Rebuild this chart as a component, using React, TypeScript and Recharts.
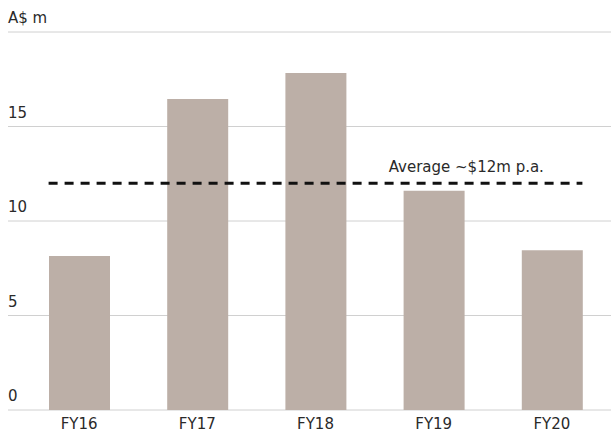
import { BarChart, Bar, XAxis, YAxis, CartesianGrid, ReferenceLine } from 'recharts'

const years = ['FY16', 'FY17', 'FY18', 'FY19', 'FY20']
const revenue = [8.15, 16.45, 17.83, 11.6, 8.45]
const average = 12
const yTicks = [0, 5, 10, 15, 20]
const unitLabel = 'A$ m'
const averageLabel = 'Average ~$12m p.a.'

const data = years.map((year, i) => ({ year, value: revenue[i] }))

const FONT = '"DejaVu Sans", sans-serif'
const FONT_SIZE = 15
const TEXT = '#2a2a2a'
const BAR_SIZE = 61

function YTick(props: any) {
  const { y, payload } = props
  const label = payload.value === 20 ? unitLabel : String(payload.value)
  return (
    <text x={8} y={y - 9} textAnchor="start" fill={TEXT} fontSize={FONT_SIZE} fontFamily={FONT}>
      {label}
    </text>
  )
}

function AvgLine(props: any) {
  const { x1, x2, y1 } = props
  return (
    <line
      x1={x1 - BAR_SIZE / 2}
      x2={x2 + BAR_SIZE / 2}
      y1={y1}
      y2={y1}
      stroke="#111"
      strokeWidth={3}
      strokeDasharray="9 7"
    />
  )
}

function AvgLabel(props: any) {
  const { viewBox } = props
  return (
    <text
      x={viewBox.x + viewBox.width - 8}
      y={viewBox.y - 11}
      textAnchor="end"
      fill={TEXT}
      fontSize={FONT_SIZE}
      fontFamily={FONT}
    >
      {averageLabel}
    </text>
  )
}

export default function App() {
  return (
    <div style={{ position: 'absolute', left: 0, top: 0 }}>
      <BarChart
        width={611}
        height={434}
        data={data}
        margin={{ top: 32, right: 0, left: 7, bottom: 0 }}
      >
        <CartesianGrid vertical={false} stroke="#d0d0d0" strokeWidth={1} />
        <XAxis
          dataKey="year"
          axisLine={false}
          tickLine={false}
          height={24}
          tickMargin={0}
          padding={{ left: 12, right: 0 }}
          tick={{ fill: TEXT, fontSize: FONT_SIZE, fontFamily: FONT, dy: 2 }}
          interval={0}
        />
        <YAxis
          width={1}
          domain={[0, 20]}
          ticks={yTicks}
          axisLine={false}
          tickLine={false}
          tick={<YTick />}
        />
        <Bar dataKey="value" fill="#bcafa7" barSize={BAR_SIZE} isAnimationActive={false} />
        <ReferenceLine
          segment={[
            { x: years[0], y: average },
            { x: years[years.length - 1], y: average },
          ]}
          shape={<AvgLine />}
          label={<AvgLabel />}
          ifOverflow="visible"
        />
      </BarChart>
    </div>
  )
}
